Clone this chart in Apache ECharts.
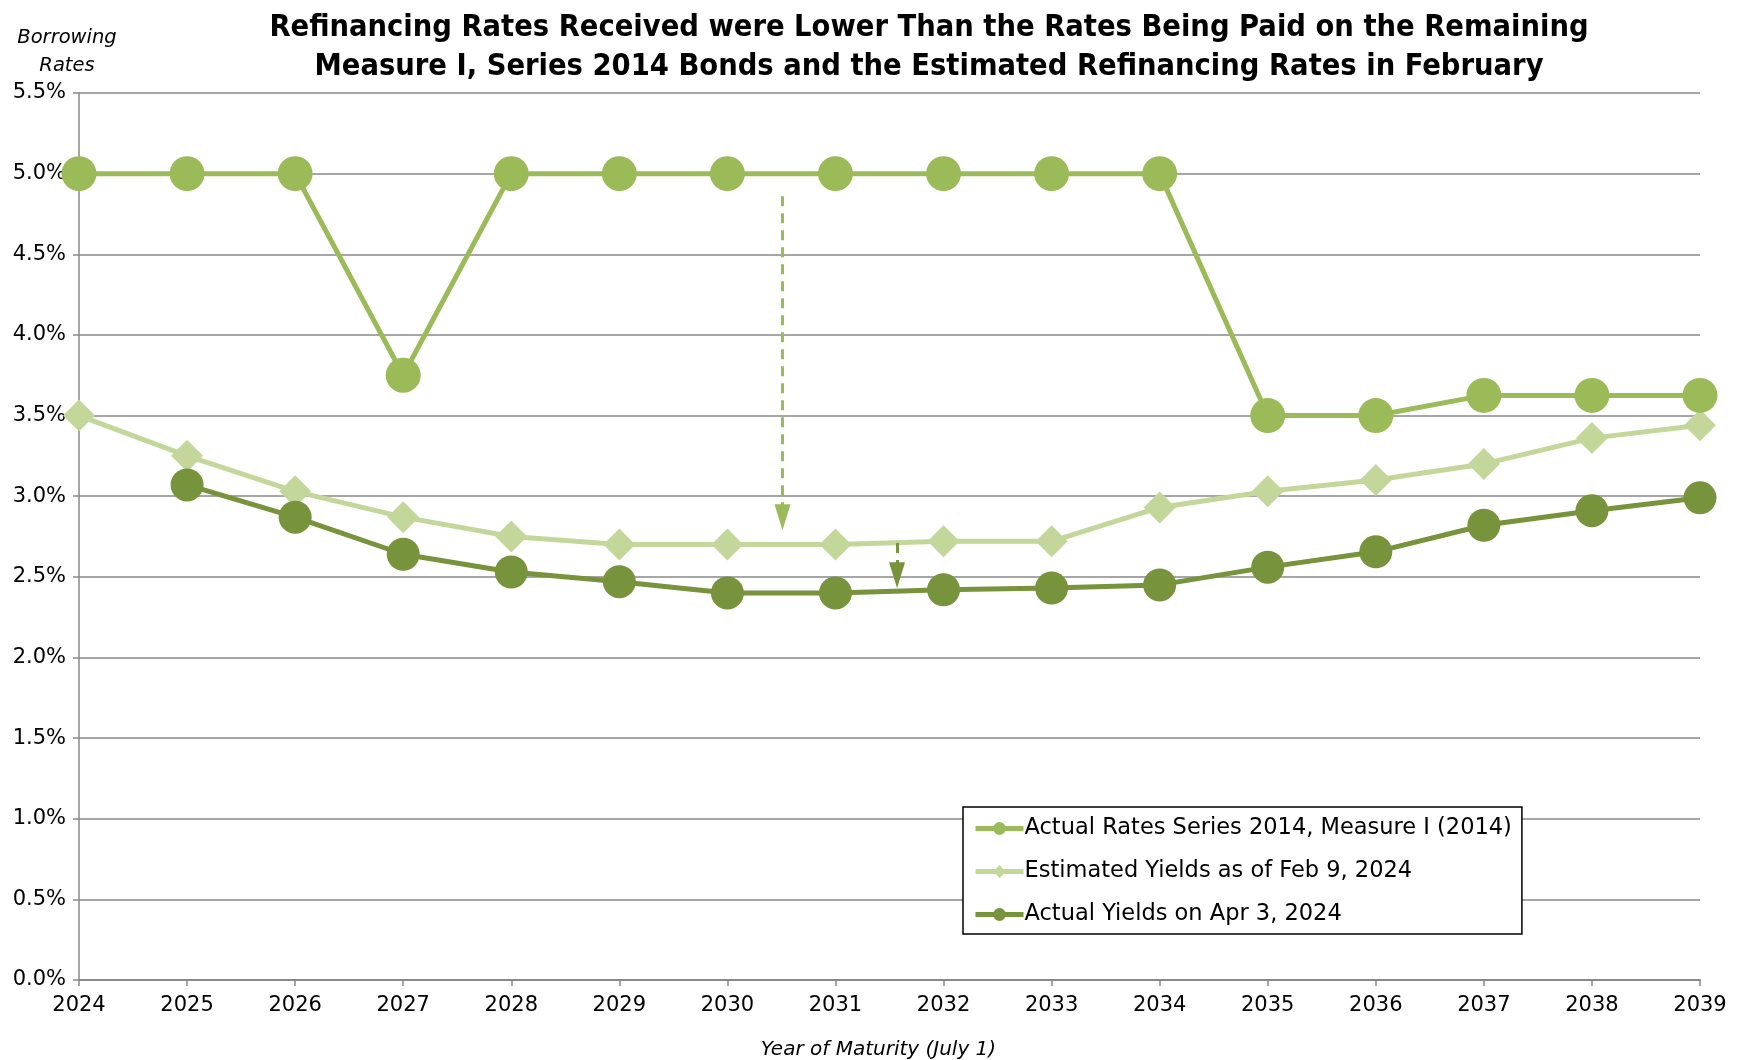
<!DOCTYPE html>
<html>
<head>
<meta charset="utf-8">
<script src="https://cdn.jsdelivr.net/npm/echarts@6/dist/echarts.min.js"></script>
<style>
html,body{margin:0;padding:0;background:#fff;}
#chart{width:1743px;height:1060px;}
</style>
</head>
<body>
<div id="chart"></div>
<script>
// ---- data ----
var years = [2024, 2025, 2026, 2027, 2028, 2029, 2030, 2031, 2032, 2033, 2034, 2035, 2036, 2037, 2038, 2039];
var actualRates2014 = [5.0, 5.0, 5.0, 3.75, 5.0, 5.0, 5.0, 5.0, 5.0, 5.0, 5.0, 3.5, 3.5, 3.625, 3.625, 3.625];
var estimatedFeb9 = [3.5, 3.25, 3.03, 2.87, 2.75, 2.70, 2.70, 2.70, 2.72, 2.72, 2.93, 3.03, 3.10, 3.20, 3.36, 3.44];
var actualApr3 = [null, 3.07, 2.87, 2.64, 2.53, 2.47, 2.40, 2.40, 2.42, 2.43, 2.45, 2.56, 2.655, 2.82, 2.91, 2.99];
var seriesNames = ['Actual Rates Series 2014, Measure I (2014)', 'Estimated Yields as of Feb 9, 2024', 'Actual Yields on Apr 3, 2024'];
var yTicks = [0, 0.5, 1.0, 1.5, 2.0, 2.5, 3.0, 3.5, 4.0, 4.5, 5.0, 5.5];
// arrows: [x, fromY, arrowhead-centre Y]
var arrowEstimated = [2030.51, 4.86, 2.87];
var arrowActual = [2031.57, 2.71, 2.51];

function pairs(vals) {
  var out = [];
  for (var i = 0; i < years.length; i++) {
    if (vals[i] !== null) out.push([years[i], vals[i]]);
  }
  return out;
}

var C1 = '#9bbb59', C2 = '#c4d79b', C3 = '#77933c';
var labelFont = "'DejaVu Sans', 'Liberation Sans', sans-serif";
var titleFont = "'DejaVu Sans Condensed', 'Liberation Sans', sans-serif";

var chart = echarts.init(document.getElementById('chart'));
chart.setOption({
  animation: false,
  backgroundColor: '#fff',
  title: {
    text: 'Refinancing Rates Received were Lower Than the Rates Being Paid on the Remaining\nMeasure I, Series 2014 Bonds and the Estimated Refinancing Rates in February',
    left: 924, top: 4, textAlign: 'center',
    textStyle: { fontFamily: titleFont, fontWeight: 'bold', fontSize: 30.5, lineHeight: 39, color: '#000' }
  },
  graphic: [
    { type: 'text', x: 67, y: 24, style: { text: 'Borrowing\nRates', textAlign: 'center', fontFamily: labelFont, fontStyle: 'italic', fontSize: 19.5, lineHeight: 28, fill: '#000' } }
  ],
  legend: {
    orient: 'vertical', left: 963, top: 807,
    data: seriesNames,
    backgroundColor: '#fff', borderColor: '#000', borderWidth: 1.5, borderRadius: 0,
    padding: [10, 10, 8, 10],
    itemWidth: 48, itemHeight: 16, itemGap: 20,
    lineStyle: { width: 5 },
    textStyle: { fontFamily: labelFont, fontSize: 22.5, color: '#000', padding: [0, 0, 0, -4] }
  },
  grid: { left: 79, right: 43, top: 93, bottom: 80, containLabel: false, outerBoundsMode: 'none' },
  xAxis: {
    type: 'value', min: 2024, max: 2039, interval: 1,
    name: 'Year of Maturity (July 1)', nameLocation: 'middle', nameGap: 60,
    nameTextStyle: { fontFamily: labelFont, fontStyle: 'italic', fontSize: 20, color: '#000', padding: [0, 22, 0, 0] },
    axisLine: { show: true, lineStyle: { color: '#888', width: 2 } },
    axisTick: { show: true, length: 6, lineStyle: { color: '#888', width: 1.5 } },
    axisLabel: { fontFamily: labelFont, fontSize: 21, color: '#000', margin: 15, formatter: function (v) { return String(v); } },
    splitLine: { show: false }
  },
  yAxis: {
    type: 'value', min: 0, max: 5.5, interval: 0.5,
    axisLine: { show: true, lineStyle: { color: '#888', width: 1.5 } },
    axisTick: { show: true, length: 6, lineStyle: { color: '#888', width: 1.5 } },
    axisLabel: { fontFamily: labelFont, fontSize: 21, color: '#000', margin: 13,
      formatter: function (v) { return yTicks.indexOf(v) >= 0 ? v.toFixed(1) + '%' : ''; } },
    splitLine: { show: true, lineStyle: { color: '#888', width: 1.5 } }
  },
  series: [
    {
      name: seriesNames[0], type: 'line', data: pairs(actualRates2014),
      symbol: 'circle', symbolSize: 35, z: 3,
      lineStyle: { color: C1, width: 5 }, itemStyle: { color: C1 },
      markLine: {
        silent: true, symbol: ['none', 'triangle'], symbolSize: [16, 26],
        label: { show: false },
        lineStyle: { color: C1, width: 3, type: [10, 7] },
        data: [[{ coord: [arrowEstimated[0], arrowEstimated[1]] }, { coord: [arrowEstimated[0], arrowEstimated[2]] }]]
      }
    },
    {
      name: seriesNames[1], type: 'line', data: pairs(estimatedFeb9),
      symbol: 'diamond', symbolSize: [32, 32], z: 2,
      lineStyle: { color: C2, width: 5 }, itemStyle: { color: C2 }
    },
    {
      name: seriesNames[2], type: 'line', data: pairs(actualApr3),
      symbol: 'circle', symbolSize: 33, z: 4,
      lineStyle: { color: C3, width: 5 }, itemStyle: { color: C3 },
      markLine: {
        silent: true, symbol: ['none', 'triangle'], symbolSize: [16, 26],
        label: { show: false },
        lineStyle: { color: C3, width: 3, type: [10, 7] },
        data: [[{ coord: [arrowActual[0], arrowActual[1]] }, { coord: [arrowActual[0], arrowActual[2]] }]]
      }
    }
  ]
});
</script>
</body>
</html>
